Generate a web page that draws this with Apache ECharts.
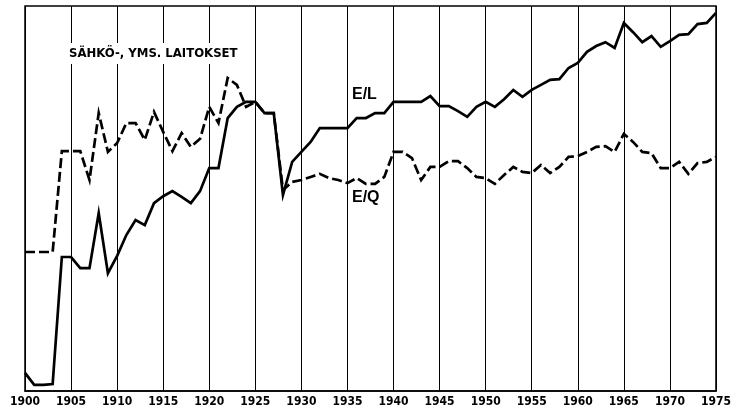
<!DOCTYPE html>
<html>
<head>
<meta charset="utf-8">
<title>Sähkö-, yms. laitokset E/L ja E/Q</title>
<script src="https://cdn.jsdelivr.net/npm/echarts@6/dist/echarts.min.js"></script>
<style>
  html, body { margin: 0; padding: 0; background: #fff; }
  #chart { width: 734px; height: 412px; }
</style>
</head>
<body>
<div id="chart"></div>
<script>
// Years 1900–1975
const years = [];
for (let y = 1900; y <= 1975; y++) years.push(y);

// E/L index (solid line)
const eL = [
  4.7, 1.6, 1.6, 1.8, 34.8, 34.8, 31.9, 31.9, 46.2, 30.6,
  35.1, 40.5, 44.4, 43.1, 48.8, 50.6, 51.9, 50.4, 48.8, 51.9,
  57.9, 57.9, 70.9, 73.8, 75.1, 75.1, 72.2, 72.2, 50.9, 59.5,
  62.1, 64.7, 68.3, 68.3, 68.3, 68.3, 70.9, 70.9, 72.2, 72.2,
  75.1, 75.1, 75.1, 75.1, 76.6, 74.0, 74.0, 72.7, 71.2, 73.8,
  75.1, 73.8, 75.8, 78.2, 76.4, 78.2, 79.5, 80.8, 81.0, 83.9,
  85.2, 88.1, 89.6, 90.6, 89.1, 95.6, 93.2, 90.6, 92.2, 89.4,
  90.9, 92.5, 92.7, 95.3, 95.6, 98.2
];

// E/Q index (dashed line)
const eQ = [
  36.1, 36.1, 36.1, 36.1, 62.3, 62.3, 62.3, 54.8, 72.2, 62.1,
  64.4, 69.6, 69.6, 65.2, 72.5, 67.3, 62.3, 67.0, 63.4, 65.5,
  73.8, 69.6, 81.3, 79.5, 73.8, 75.1, 72.2, 72.2, 52.2, 54.3,
  54.8, 55.6, 56.4, 55.3, 54.8, 54.0, 55.3, 53.8, 53.8, 55.6,
  62.1, 62.1, 60.5, 54.8, 58.2, 58.2, 59.7, 59.7, 57.9, 55.6,
  55.3, 53.8, 56.1, 58.2, 56.9, 56.6, 58.7, 56.6, 58.2, 60.8,
  61.0, 62.1, 63.4, 63.6, 62.1, 66.8, 64.7, 62.1, 61.8, 57.9,
  57.9, 59.5, 56.4, 59.2, 59.5, 60.8
];

const panelTitle = 'SÄHKÖ-, YMS. LAITOKSET';
const seriesNames = ['E/L', 'E/Q'];

const narrow = "'Liberation Sans Narrow', 'DejaVu Sans Condensed', 'Liberation Sans', sans-serif";
const wide = "'Liberation Sans', 'DejaVu Sans', sans-serif";

const chart = echarts.init(document.getElementById('chart'), null, { renderer: 'canvas' });

chart.setOption({
  backgroundColor: '#fff',
  animation: false,
  grid: {
    left: 25, right: 17, top: 6, bottom: 21,
    show: true, borderColor: '#000', borderWidth: 1.5, backgroundColor: 'transparent'
  },
  xAxis: {
    type: 'value', min: 1900, max: 1975, interval: 5,
    axisLine: { show: true, lineStyle: { color: '#000', width: 1.5 } },
    axisTick: { show: false },
    axisLabel: {
      color: '#000', fontFamily: narrow, fontWeight: 'bold', fontSize: 12, margin: 5,
      formatter: v => String(v)
    },
    splitLine: { show: true, lineStyle: { color: '#000', width: 1 } }
  },
  yAxis: {
    type: 'value', min: 0, max: 100,
    show: false,
    splitLine: { show: false }
  },
  title: {
    text: panelTitle,
    left: 66, top: 43,
    padding: [4, 3],
    backgroundColor: '#fff',
    textStyle: { fontFamily: narrow, fontWeight: 'bold', fontSize: 13, color: '#000' }
  },
  graphic: [
    {
      type: 'text', left: 352, top: 87, z: 10,
      style: { text: seriesNames[0], fill: '#000', font: "bold 16px " + wide }
    },
    {
      type: 'text', left: 352, top: 190, z: 10,
      style: { text: seriesNames[1], fill: '#000', font: "bold 16px " + wide }
    }
  ],
  series: [
    {
      name: seriesNames[0], type: 'line', showSymbol: false, symbol: 'none',
      data: years.map((y, i) => [y, eL[i]]),
      lineStyle: { color: '#000', width: 2.7, join: 'miter' },
      z: 3
    },
    {
      name: seriesNames[1], type: 'line', showSymbol: false, symbol: 'none',
      data: years.map((y, i) => [y, eQ[i]]),
      lineStyle: { color: '#000', width: 2.7, type: [10, 4], join: 'miter' },
      z: 3
    }
  ]
});
</script>
</body>
</html>
